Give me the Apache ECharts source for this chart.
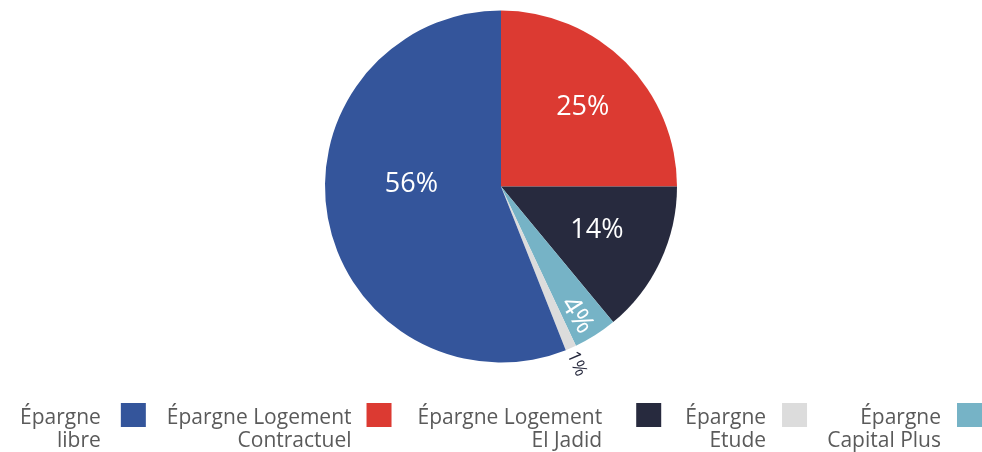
<!DOCTYPE html>
<html>
<head>
<meta charset="utf-8">
<script src="https://cdn.jsdelivr.net/npm/echarts@6/dist/echarts.min.js"></script>
<style>
  html, body { margin: 0; padding: 0; background: #ffffff; }
  #chart { width: 982px; height: 452px; }
</style>
</head>
<body>
<div id="chart"></div>
<script>
// Slices, clockwise from 12 o'clock
const categories = [
  'Épargne Logement Contractuel',
  'Épargne Logement El Jadid',
  'Épargne Capital Plus',
  'Épargne Etude',
  'Épargne libre'
];
const shares = [25, 14, 4, 1, 56];

// Legend entries, left to right, and their two-line captions
const legendOrder = [
  'Épargne libre',
  'Épargne Logement Contractuel',
  'Épargne Logement El Jadid',
  'Épargne Etude',
  'Épargne Capital Plus'
];
const legendCaptions = [
  'Épargne\nlibre',
  'Épargne Logement\nContractuel',
  'Épargne Logement\nEl Jadid',
  'Épargne\nEtude',
  'Épargne\nCapital Plus'
];

// Styling
const sliceColors = ['#DC3A32', '#272A3E', '#76B3C6', '#DCDCDC', '#34559B'];
const FONT = "'Open Sans', 'Noto Sans', sans-serif";
const PIE_CENTER = [501, 186.5];
const PIE_RADIUS = 176;
// Label placement per slice: [angle offset in degrees, distance as fraction of radius, radial text]
const labelPlacement = [
  [0, 0.657, false],
  [-1.8, 0.594, false],
  [1.9, 0.85, true],
  [0.3, 1.095, true],
  [13.7, 0.51, false]
];
// Small downward nudge so upright figures sit optically centred
const LABEL_NUDGE_Y = 2.5;
// Spacing around each legend caption: [left, right]
const legendTextSpacing = [[0, 15], [5, 10], [10, 29], [8, 11], [9, 11]];

const total = shares.reduce((a, b) => a + b, 0);
// Mid angle of each slice, degrees clockwise from the top
const midAngles = [];
let acc = 0;
shares.forEach(v => {
  midAngles.push((acc + v / 2) / total * 360);
  acc += v;
});

// Shared legend look: caption on the left, swatch on the right
function legendBlock(names, pos) {
  return Object.assign({
    data: names.map(name => {
      const i = legendOrder.indexOf(name);
      return {
        name: name,
        textStyle: { padding: [0, legendTextSpacing[i][1], 0, legendTextSpacing[i][0]] }
      };
    }),
    top: 377.5,
    padding: 0,
    orient: 'horizontal',
    align: 'right',
    icon: 'rect',
    itemWidth: 25,
    itemHeight: 24,
    itemGap: 16,
    selectedMode: false,
    // a taller empty first line keeps the first caption line level with the swatch
    formatter: name => '{gap| }\n' + legendCaptions[legendOrder.indexOf(name)],
    textStyle: {
      color: '#5a5a5a',
      fontSize: 21,
      fontFamily: FONT,
      lineHeight: 23,
      rich: {
        gap: { lineHeight: 29, fontSize: 21, fontFamily: FONT }
      }
    }
  }, pos);
}

const chart = echarts.init(document.getElementById('chart'), null, { renderer: 'canvas' });

chart.setOption({
  animation: false,
  backgroundColor: '#ffffff',
  legend: [
    legendBlock(legendOrder.slice(0, 4), { left: 20 }),
    legendBlock(legendOrder.slice(4), { right: 0 })
  ],
  series: [{
    type: 'pie',
    center: PIE_CENTER,
    radius: PIE_RADIUS,
    startAngle: 90,
    clockwise: true,
    silent: true,
    emphasis: { disabled: true },
    itemStyle: { borderWidth: 0 },
    labelLine: { show: false },
    label: {
      show: true,
      position: 'inside',
      formatter: p => p.value + '%',
      color: '#ffffff',
      fontSize: 27,
      fontFamily: FONT
    },
    data: categories.map((name, i) => {
      const item = { name: name, value: shares[i], itemStyle: { color: sliceColors[i] } };
      if (i === 3) {
        item.label = { color: '#272A3E', fontSize: 18 };
      }
      return item;
    }),
    labelLayout: function (params) {
      const i = params.dataIndex;
      const place = labelPlacement[i];
      const a = (midAngles[i] + place[0]) * Math.PI / 180;
      const r = PIE_RADIUS * place[1];
      const out = {
        x: PIE_CENTER[0] + r * Math.sin(a),
        y: PIE_CENTER[1] - r * Math.cos(a),
        align: 'center',
        verticalAlign: 'middle',
        rotate: 0
      };
      if (place[2]) {
        out.rotate = 90 - midAngles[i];
      } else {
        out.y += LABEL_NUDGE_Y;
      }
      return out;
    }
  }]
});
</script>
</body>
</html>
